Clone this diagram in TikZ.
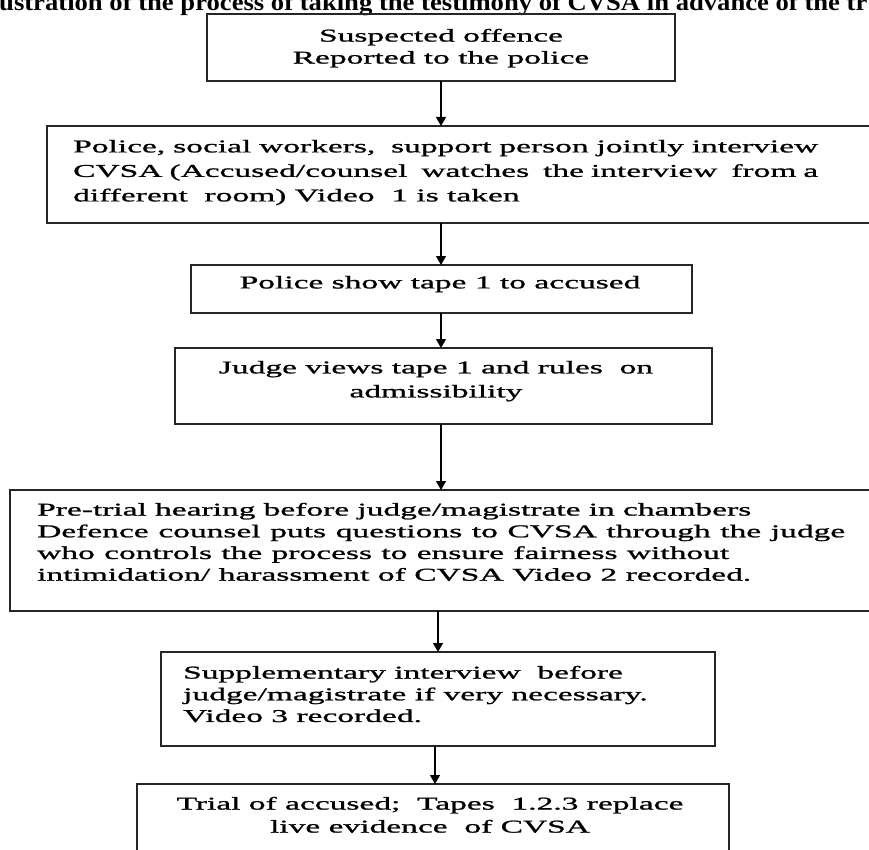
\documentclass[tikz,border=0pt]{standalone}
\usepackage{fontspec}
\setmainfont{Liberation Serif}
\newfontfamily\bodyfont[FakeStretch=1.86,FakeBold=1.2]{Liberation Serif}
\newfontfamily\titlefont[FakeStretch=1.11]{Liberation Serif}
\usetikzlibrary{arrows.meta}
\begin{document}
\begin{tikzpicture}[x=1pt,y=-1pt,
  box/.style={draw=black!85, line width=1.5pt, inner sep=0pt, outer sep=0pt, anchor=north west},
  txt/.style={inner sep=0pt, text=black},
  arr/.style={draw=black, line width=1.3pt, -{Triangle[length=9pt,width=10pt]}}]
\useasboundingbox (0,0) rectangle (869,850);
% title (cut by the page edges)
\node[anchor=base west, inner sep=0pt, font=\titlefont\bfseries\fontsize{24}{28}\selectfont] (title) at (-1,11)
  {ustration of the process of taking the testimony of CVSA in advance of the tr};
% boxes
\node[box, minimum width=468pt, minimum height=67pt] (b1) at (207,14) {};
\node[box, minimum width=840pt, minimum height=97pt] (b2) at (47,126) {};
\node[box, minimum width=501pt, minimum height=48pt] (b3) at (191,265) {};
\node[box, minimum width=537pt, minimum height=76pt] (b4) at (175,348) {};
\node[box, minimum width=880pt, minimum height=121pt] (b5) at (10,490) {};
\node[box, minimum width=554pt, minimum height=94pt] (b6) at (161,652) {};
\node[box, minimum width=592pt, minimum height=100pt] (b7) at (137,784) {};
% texts
\node[txt, anchor=north, align=center, font=\bodyfont\fontsize{18}{22}\selectfont] (t1) at (441,28.7)
  {Suspected offence\\Reported to the police};
\node[txt, anchor=north west, align=left, font=\bodyfont\fontsize{18}{24.5}\selectfont] (t2) at (73,139.7)
  {\makebox[745pt][s]{Police, social workers, \ support person jointly interview}\\
   \makebox[745pt][s]{CVSA (Accused/counsel \ watches \ the interview \ from a}\\
   different \ room) Video \ 1 is taken};
\node[txt, anchor=north, align=center, font=\bodyfont\fontsize{18}{22}\selectfont] (t3) at (440,275.7)
  {Police show tape 1 to accused};
\node[txt, anchor=north, align=center, font=\bodyfont\fontsize{18}{24}\selectfont] (t4) at (436,360.7)
  {Judge views tape 1 and rules \ on\\admissibility};
\node[txt, anchor=north west, align=left, font=\bodyfont\fontsize{18}{21.7}\selectfont] (t5) at (37,502.7)
  {\makebox[714pt][s]{Pre-trial hearing before judge/magistrate in chambers}\\
   \makebox[808pt][s]{Defence counsel puts questions to CVSA through the judge}\\
   \makebox[692pt][s]{who controls the process to ensure fairness without}\\
   \makebox[714pt][s]{intimidation/ harassment of CVSA Video 2 recorded.}};
\node[txt, anchor=north west, align=left, font=\bodyfont\fontsize{18}{21.7}\selectfont] (t6) at (183,665.7)
  {Supplementary interview \ before\\judge/magistrate if very necessary.\\Video 3 recorded.};
\node[txt, anchor=north, align=center, font=\bodyfont\fontsize{18}{23}\selectfont] (t7) at (430,796.7)
  {Trial of accused; \ Tapes \ 1.2.3 replace\\live evidence \ of CVSA};
% connectors
\coordinate (sp) at (441,0);
\coordinate (sp2) at (438,0);
\coordinate (sp3) at (435,0);
\draw[arr] (b1.south -| sp) -- (b2.north -| sp);
\draw[arr] (b2.south -| sp) -- (b3.north -| sp);
\draw[arr] (b3.south -| sp) -- (b4.north -| sp);
\draw[arr] (b4.south -| sp) -- (b5.north -| sp);
\draw[arr] (b5.south -| sp2) -- (b6.north -| sp2);
\draw[arr] (b6.south -| sp3) -- (b7.north -| sp3);
\end{tikzpicture}
\end{document}
